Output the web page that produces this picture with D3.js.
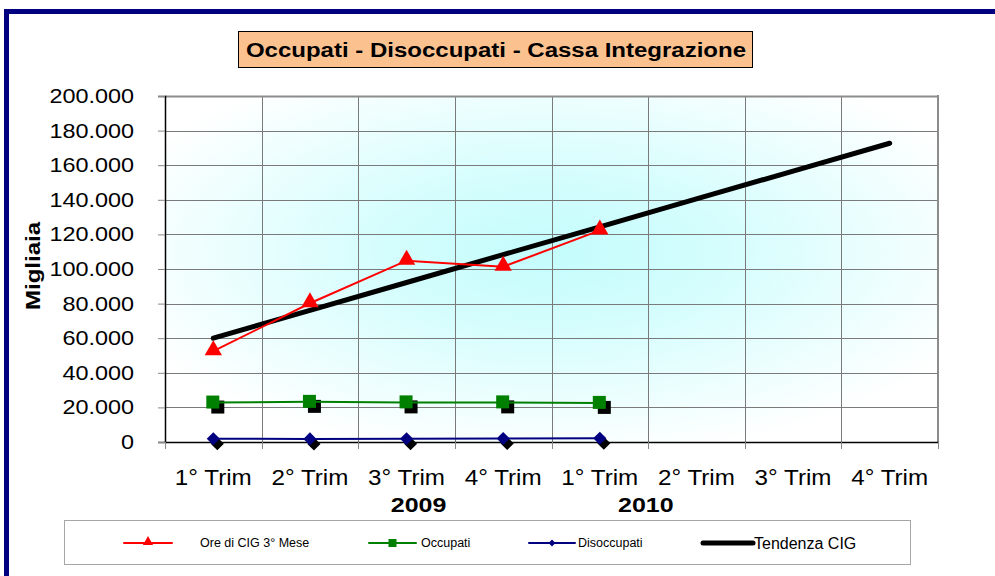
<!DOCTYPE html>
<html><head><meta charset="utf-8">
<script src="https://cdn.jsdelivr.net/npm/d3@7"></script>
<style>body{margin:0;background:#fff}svg{display:block;font-family:"Liberation Sans",Arial,sans-serif}</style>
</head><body><svg id="c" width="995" height="576"></svg>
<script>
const categories = ["1° Trim","2° Trim","3° Trim","4° Trim","1° Trim","2° Trim","3° Trim","4° Trim"];
const years = [{label:"2009", idx:2, off:12}, {label:"2010", idx:4, off:46}];
const oreCIG = [52500, 80200, 104800, 101300, 122300];
const occupati = [22800, 23200, 22900, 22900, 22600];
const disoccupati = [1900, 1800, 1900, 2000, 2200];
const tendenza = [60000, 76100, 92200, 108300, 124400, 140500, 156600, 172700];
const yTicks = [0,20000,40000,60000,80000,100000,120000,140000,160000,180000,200000];
const title = "Occupati - Disoccupati - Cassa Integrazione";
const yTitle = "Migliaia";
const legendItems = ["Ore di CIG 3° Mese","Occupati","Disoccupati","Tendenza CIG"];

const svg = d3.select("#c");
const L=165, R=938, T=96, B=442;
const x = d3.scaleBand().domain(d3.range(categories.length)).range([L,R]);
const xc = i => x(i) + x.bandwidth()/2;
const y = d3.scaleLinear().domain([0,200000]).range([B,T]);
const fmt = v => d3.format(",")(v).replace(/,/g,".");
function stretch(sel, k){
  sel.each(function(){ const w=this.getComputedTextLength(); d3.select(this).attr("textLength",w*k).attr("lengthAdjust","spacingAndGlyphs"); });
}

// frame
svg.append("path").attr("d","M6.5,600 V11.5 H1000").attr("fill","none").attr("stroke","#000080").attr("stroke-width",5);

// gradient background
const defs = svg.append("defs");
const g = defs.append("radialGradient").attr("id","bg").attr("cx","0.5").attr("cy","0.45").attr("r","0.6");
g.append("stop").attr("offset","0").attr("stop-color","#c4fcfc");
g.append("stop").attr("offset","0.35").attr("stop-color","#d4fdfd");
g.append("stop").attr("offset","1").attr("stop-color","#ffffff");
svg.append("rect").attr("x",L).attr("y",T).attr("width",R-L).attr("height",B-T).attr("fill","url(#bg)");

// gridlines
svg.append("g").selectAll("line").data(yTicks.slice(1)).join("line")
  .attr("x1",L).attr("x2",R).attr("y1",d=>Math.round(y(d))+0.5).attr("y2",d=>Math.round(y(d))+0.5)
  .attr("stroke","#7a7a7a").attr("stroke-width",1);
svg.append("g").selectAll("line").data(d3.range(1,categories.length)).join("line")
  .attr("x1",d=>Math.round(x(d))+0.5).attr("x2",d=>Math.round(x(d))+0.5).attr("y1",T).attr("y2",B)
  .attr("stroke","#7a7a7a").attr("stroke-width",1);
svg.append("line").attr("x1",R).attr("x2",R).attr("y1",T-1).attr("y2",B).attr("stroke","#8c8c8c").attr("stroke-width",2);
svg.append("line").attr("x1",L).attr("x2",R).attr("y1",T+0.5).attr("y2",T+0.5).attr("stroke","#8c8c8c").attr("stroke-width",2);

// y axis
const ya = svg.append("g").attr("transform",`translate(${L},0)`)
  .call(d3.axisLeft(y).tickValues(yTicks).tickFormat(fmt).tickSize(7).tickPadding(24));
ya.select(".domain").attr("stroke","#000").attr("stroke-width",1.5);
ya.selectAll(".tick line").attr("stroke","#888");
ya.selectAll("text").attr("font-size",20).attr("fill","#000").attr("font-family","Liberation Sans, Arial, sans-serif").call(stretch,1.17);

// x axis
const xa = svg.append("g").attr("transform",`translate(0,${B})`)
  .call(d3.axisBottom(x).tickSize(0).tickFormat(i=>categories[i]).tickPadding(27));
xa.select(".domain").attr("stroke","#000").attr("stroke-width",1.5);
xa.selectAll("text").attr("font-size",22).attr("fill","#000").attr("font-family","Liberation Sans, Arial, sans-serif").call(stretch,1.1);
svg.append("g").selectAll("line").data(d3.range(0,categories.length+1)).join("line")
  .attr("x1",d=>Math.round(d===categories.length?R:x(d))+0.5).attr("x2",d=>Math.round(d===categories.length?R:x(d))+0.5)
  .attr("y1",B).attr("y2",B+7).attr("stroke","#888");

svg.append("g").selectAll("text").data(years).join("text")
  .attr("x",d=>xc(d.idx)+d.off).attr("y",512).attr("text-anchor","middle")
  .attr("font-size",20).attr("font-weight","bold").text(d=>d.label).call(stretch,1.25);

// y title
svg.append("text").attr("transform","translate(40,266) rotate(-90)").attr("text-anchor","middle")
  .attr("font-size",20).attr("font-weight","bold").text(yTitle).call(stretch,1.2);

// title
svg.append("rect").attr("x",238.5).attr("y",31.5).attr("width",514).attr("height",36).attr("fill","#fbc290").attr("stroke","#000");
svg.append("text").attr("x",496).attr("y",57).attr("text-anchor","middle").attr("font-size",20).attr("font-weight","bold").text(title).call(stretch,1.2);

const line = d3.line().x((d,i)=>xc(i)).y(d=>y(d));

// trend
svg.append("path").datum(tendenza).attr("d",line).attr("fill","none").attr("stroke","#000").attr("stroke-width",5).attr("stroke-linecap","round");

// red
svg.append("path").datum(oreCIG).attr("d",line).attr("fill","none").attr("stroke","#ff0000").attr("stroke-width",2);
const tri = d3.symbol().type(d3.symbolTriangle).size(130);
svg.append("g").selectAll("path").data(oreCIG).join("path")
  .attr("transform",(d,i)=>`translate(${xc(i)},${y(d)-1})`).attr("d",tri).attr("fill","#ff0000");

// green
svg.append("g").selectAll("rect").data(occupati).join("rect")
  .attr("x",(d,i)=>xc(i)-6+4).attr("y",d=>y(d)-6+4).attr("width",13).attr("height",13).attr("fill","#000");
svg.append("path").datum(occupati).attr("d",line).attr("fill","none").attr("stroke","#008000").attr("stroke-width",2);
svg.append("g").selectAll("rect.s").data(occupati).join("rect")
  .attr("x",(d,i)=>xc(i)-7).attr("y",d=>y(d)-7).attr("width",13).attr("height",13).attr("fill","#008000");

// navy
const dia = d3.symbol().type(d3.symbolDiamond2).size(110);
svg.append("g").selectAll("path").data(disoccupati).join("path")
  .attr("transform",(d,i)=>`translate(${xc(i)+4},${y(d)+5})`).attr("d",dia).attr("fill","#000");
svg.append("path").datum(disoccupati).attr("d",line).attr("fill","none").attr("stroke","#000080").attr("stroke-width",2);
svg.append("g").selectAll("path.s").data(disoccupati).join("path")
  .attr("transform",(d,i)=>`translate(${xc(i)},${y(d)})`).attr("d",dia).attr("fill","#000080");

// legend
svg.append("rect").attr("x",64.5).attr("y",520.5).attr("width",846).attr("height",44).attr("fill","#fff").attr("stroke","#a6a6a6");
const ly = 543;
const leg = [
  {x1:124,x2:172,tx:200,color:"#ff0000",w:2,marker:"tri",fs:12.5},
  {x1:369,x2:416,tx:421,color:"#008000",w:2,marker:"sq",fs:12.5},
  {x1:529,x2:575,tx:578,color:"#000080",w:2,marker:"dia",fs:12.5},
  {x1:703,x2:753,tx:754,color:"#000",w:5,marker:null,fs:16}
];
const lg = svg.append("g").selectAll("g").data(leg).join("g");
lg.append("line").attr("x1",d=>d.x1).attr("x2",d=>d.x2).attr("y1",ly).attr("y2",ly).attr("stroke",d=>d.color).attr("stroke-width",d=>d.w).attr("stroke-linecap","round");
lg.filter(d=>d.marker==="tri").append("path").attr("transform",d=>`translate(${(d.x1+d.x2)/2},${ly-1})`).attr("d",d3.symbol().type(d3.symbolTriangle).size(45)).attr("fill","#ff0000");
lg.filter(d=>d.marker==="sq").append("rect").attr("x",d=>(d.x1+d.x2)/2-4).attr("y",ly-4).attr("width",8).attr("height",8).attr("fill","#008000");
lg.filter(d=>d.marker==="dia").append("path").attr("transform",d=>`translate(${(d.x1+d.x2)/2},${ly})`).attr("d",d3.symbol().type(d3.symbolDiamond2).size(30)).attr("fill","#000080");
lg.append("text").attr("x",d=>d.tx).attr("y",ly).attr("dy","0.35em").attr("font-size",d=>d.fs).text((d,i)=>legendItems[i]);
</script></body></html>
